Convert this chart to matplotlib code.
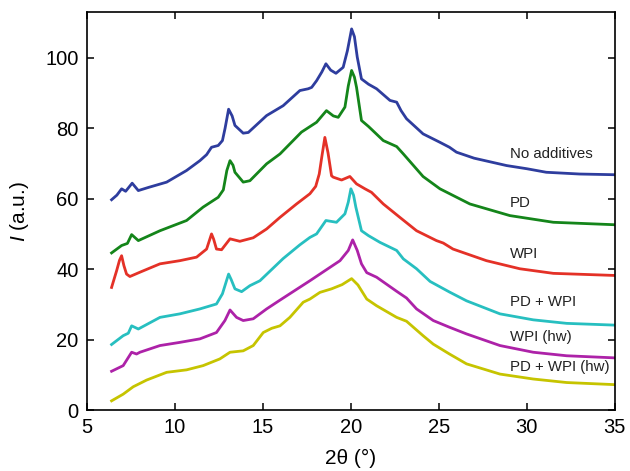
"""
XRD patterns of the six samples, offset vertically.
"""

import matplotlib
matplotlib.use("Agg")
import matplotlib.pyplot as plt

plt.rcParams["font.family"] = ["Liberation Sans", "DejaVu Sans"]
plt.rcParams["mathtext.fontset"] = "custom"
plt.rcParams["mathtext.it"] = "Liberation Sans:italic"
plt.rcParams["mathtext.rm"] = "Liberation Sans"

# --- data ---
no_add_x = [6.4, 6.7, 6.97, 7.2, 7.57, 7.92, 8.5, 9.53, 10.66, 11.42, 11.8, 12.08, 12.46, 12.7,
            12.85, 13.05, 13.25, 13.41, 13.88, 14.17, 15.21, 16.15, 17.1, 17.57, 17.77, 18.05,
            18.35, 18.58, 18.85, 19.15, 19.56, 19.8, 20.04, 20.2, 20.36, 20.6, 21.0, 21.46,
            22.22, 22.6, 22.85, 23.16, 24.1, 25.06, 25.6, 26.0, 27.0, 28.85, 30.0, 31.1, 33.0, 35.0]
no_add_y = [59.7, 61.0, 62.8, 62.1, 64.4, 62.3, 63.2, 64.7, 68.0, 70.8, 72.5, 74.6, 75.1, 76.5,
            80.0, 85.4, 83.5, 80.8, 78.6, 78.8, 83.6, 86.4, 90.7, 91.2, 91.6, 93.5,
            96.0, 98.3, 96.5, 95.6, 97.3, 102.0, 108.2, 106.0, 100.2, 94.0, 92.5, 91.2,
            87.9, 87.4, 85.0, 82.7, 78.4, 76.0, 74.6, 73.2, 71.5, 69.4, 68.5, 67.5, 67.0, 66.8]

pd_x = [6.4, 6.97, 7.3, 7.54, 7.92, 9.15, 10.66, 11.6, 12.46, 12.75, 12.95, 13.13, 13.3, 13.41,
        13.88, 14.26, 15.21, 15.97, 17.19, 18.05, 18.61, 19.0, 19.28, 19.66, 19.85, 20.04, 20.2,
        20.32, 20.6, 21.0, 21.84, 22.6, 22.98, 24.1, 25.06, 26.76, 29.03, 31.5, 35.0]
pd_y = [44.6, 46.7, 47.3, 49.8, 48.1, 50.9, 53.8, 57.6, 60.4, 62.5, 68.0, 70.8, 69.5, 67.5,
        64.7, 65.1, 69.9, 72.7, 78.9, 81.7, 85.0, 83.5, 83.1, 86.0, 92.0, 96.4, 94.5,
        91.6, 82.2, 80.5, 76.5, 74.8, 72.7, 66.3, 62.8, 58.5, 55.2, 53.3, 52.6]

wpi_x = [6.4, 6.69, 6.85, 6.97, 7.1, 7.25, 7.44, 8.0, 9.15, 10.28, 11.23, 11.8, 11.95, 12.08,
         12.2, 12.36, 12.65, 13.13, 13.69, 14.45, 15.21, 15.97, 16.91, 17.67, 18.0, 18.2, 18.35,
         18.52, 18.7, 18.9, 19.0, 19.47, 19.94, 20.32, 20.8, 21.17, 21.84, 22.78, 23.73, 24.86,
         25.25, 25.8, 27.7, 29.6, 31.5, 35.0]
wpi_y = [34.8, 39.6, 42.5, 43.8, 41.0, 38.6, 37.9, 39.1, 41.5, 42.4, 43.4, 45.7, 48.0, 50.0,
         48.5, 45.7, 45.5, 48.6, 47.9, 48.9, 51.4, 54.7, 58.5, 61.4, 63.5, 67.0, 72.0,
         77.4, 73.0, 66.5, 66.1, 65.3, 66.3, 64.2, 62.8, 61.8, 58.5, 54.7, 50.9, 48.1,
         47.4, 45.7, 42.4, 40.1, 38.8, 38.2]

pdwpi_x = [6.4, 7.06, 7.35, 7.54, 7.92, 9.15, 10.28, 11.42, 12.36, 12.7, 12.93, 13.05, 13.2,
           13.41, 13.79, 14.26, 14.83, 16.15, 17.1, 17.67, 18.05, 18.58, 19.18, 19.66, 19.85,
           20.0, 20.15, 20.28, 20.6, 21.0, 21.65, 22.6, 22.98, 23.73, 24.5, 25.6, 26.57, 28.47,
           30.36, 32.26, 35.0]
pdwpi_y = [18.6, 21.1, 21.8, 23.9, 23.0, 26.3, 27.3, 28.7, 30.1, 33.0, 36.7, 38.6, 37.0,
           34.4, 33.6, 35.3, 36.7, 43.0, 46.9, 49.0, 50.0, 53.8, 53.3, 55.7, 59.0,
           62.8, 61.0, 57.6, 50.9, 49.5, 47.6, 45.3, 42.9, 40.1, 36.5, 33.5, 31.0, 27.3,
           25.6, 24.6, 24.1]

wpi_hw_x = [6.4, 7.06, 7.54, 7.82, 8.01, 9.15, 10.28, 11.42, 12.36, 12.84, 13.13, 13.5, 13.88,
            14.45, 15.21, 15.97, 17.67, 19.38, 19.85, 20.1, 20.36, 20.6, 20.9, 21.46, 22.6,
            23.16, 23.73, 24.68, 25.6, 26.57, 28.47, 30.36, 32.26, 35.0]
wpi_hw_y = [11.0, 12.6, 16.4, 15.9, 16.4, 18.3, 19.2, 20.2, 22.0, 25.4, 28.4, 26.3, 25.4,
            25.9, 28.7, 31.2, 36.7, 42.4, 45.3, 48.3, 45.3, 41.5, 39.0, 37.7, 33.7,
            31.8, 28.7, 25.4, 23.5, 21.6, 18.3, 16.4, 15.4, 14.8]

pdwpi_hw_x = [6.4, 7.06, 7.63, 8.39, 9.53, 10.66, 11.6, 12.55, 13.13, 13.88, 14.45, 15.02, 15.5,
              15.97, 16.53, 17.29, 17.67, 18.24, 18.9, 19.5, 20.04, 20.4, 20.9, 21.46, 22.6,
              23.16, 24.1, 24.68, 25.6, 26.57, 28.47, 30.36, 32.26, 35.0]
pdwpi_hw_y = [2.6, 4.5, 6.6, 8.5, 10.7, 11.4, 12.6, 14.5, 16.4, 16.8, 18.3, 22.0, 23.2,
              23.9, 26.3, 30.6, 31.5, 33.4, 34.4, 35.6, 37.3, 35.5, 31.5, 29.6, 26.3,
              25.2, 21.1, 18.7, 15.9, 13.1, 10.2, 8.8, 7.8, 7.2]

labels = ["No additives", "PD", "WPI", "PD + WPI", "WPI (hw)", "PD + WPI (hw)"]
label_y = [72.8, 58.9, 44.2, 30.7, 20.8, 12.1]

series = [
    (no_add_x, no_add_y, "#2e3d9e"),
    (pd_x, pd_y, "#14851a"),
    (wpi_x, wpi_y, "#e43127"),
    (pdwpi_x, pdwpi_y, "#27bfc0"),
    (wpi_hw_x, wpi_hw_y, "#ad22a8"),
    (pdwpi_hw_x, pdwpi_hw_y, "#c6c400"),
]

fig = plt.figure(figsize=(6.3, 4.71), dpi=100)
ax = fig.add_axes([0.138, 0.1295, 0.838, 0.845])

for (xs, ys, col), name, ly in zip(series, labels, label_y):
    ax.plot(xs, ys, color=col, lw=2.0, solid_joinstyle="round")
    ax.text(29.05, ly, name, fontsize=10.8, va="center", ha="left", color="#222222")

ax.set_xlim(5, 35)
ax.set_ylim(0, 113)
ax.set_xticks([5, 10, 15, 20, 25, 30, 35])
ax.set_yticks([0, 20, 40, 60, 80, 100])
ax.tick_params(direction="in", top=True, right=True, length=5, width=1.1,
               labelsize=14.5, pad=6)
for sp in ax.spines.values():
    sp.set_linewidth(1.2)

ax.set_xlabel("2θ (°)", fontsize=15, labelpad=8)
ax.set_ylabel(r"$\mathit{I}$ (a.u.)", fontsize=15, labelpad=10)

fig.savefig("out.png", dpi=100)
plt.close(fig)
